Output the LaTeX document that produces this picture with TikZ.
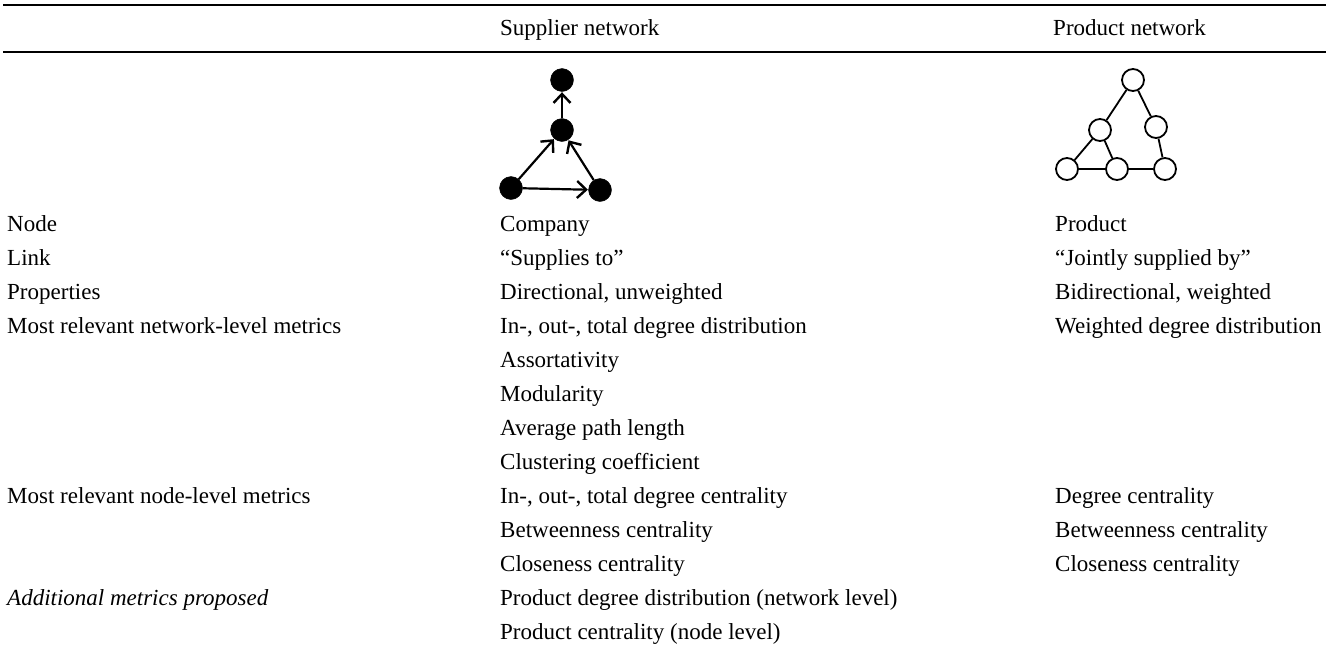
\documentclass[tikz,border=0pt]{standalone}
\usepackage{fontspec}
\setmainfont{Liberation Serif}
\usetikzlibrary{arrows.meta}
\begin{document}
\begin{tikzpicture}[x=1pt,y=-1pt,
  txt/.style={anchor=base west,inner sep=0pt,font=\fontsize{23}{27}\selectfont},
  rule/.style={line width=2.4pt},
  snode/.style={circle,fill=black,draw=black,minimum size=23pt,inner sep=0pt},
  pnode/.style={circle,draw=black,line width=1.8pt,fill=white,minimum size=22pt,inner sep=0pt},
  sedge/.style={line width=2.2pt,-{Straight Barb[length=9pt,width=17pt,line width=2.4pt]},shorten >=0.5pt},
  pedge/.style={line width=1.8pt}]
\useasboundingbox (0,0) rectangle (1338,651);
% rules
\coordinate (r1a) at (3,5); \coordinate (r1b) at (1326,5);
\coordinate (r2a) at (3,52); \coordinate (r2b) at (1326,52);
\draw[rule] (r1a) -- (r1b);
\draw[rule] (r2a) -- (r2b);
% header
\node[txt] (hs) at (500,35) {Supplier network};
\node[txt] (hp) at (1053,35) {Product network};
% supplier network
\node[snode] (s1) at (562,80) {};
\node[snode] (s2) at (562,130) {};
\node[snode] (s3) at (511,188) {};
\node[snode] (s4) at (600,190) {};
\draw[sedge] (s2) -- (s1);
\draw[sedge] (s3) -- (s2);
\draw[sedge] (s4) -- (s2);
\draw[sedge] (s3) -- (s4);
% product network
\node[pnode] (p1) at (1133,80) {};
\node[pnode] (p2) at (1100,130) {};
\node[pnode] (p3) at (1156,127) {};
\node[pnode] (p4) at (1067,169) {};
\node[pnode] (p5) at (1117,169) {};
\node[pnode] (p6) at (1165,169) {};
\draw[pedge] (p1) -- (p2);
\draw[pedge] (p1) -- (p3);
\draw[pedge] (p2) -- (p4);
\draw[pedge] (p2) -- (p5);
\draw[pedge] (p3) -- (p6);
\draw[pedge] (p4) -- (p5);
\draw[pedge] (p5) -- (p6);
% column 1
\node[txt] (a1) at (7,231) {Node};
\node[txt] (a2) at (7,265) {Link};
\node[txt] (a3) at (7,299) {Properties};
\node[txt] (a4) at (7,333) {Most relevant network-level metrics};
\node[txt] (a5) at (7,503) {Most relevant node-level metrics};
\node[txt] (a6) at (7,605) {\itshape Additional metrics proposed};
% column 2
\node[txt] (b1) at (500,231) {Company};
\node[txt] (b2) at (500,265) {“Supplies to”};
\node[txt] (b3) at (500,299) {Directional, unweighted};
\node[txt] (b4) at (500,333) {In-, out-, total degree distribution};
\node[txt] (b5) at (500,367) {Assortativity};
\node[txt] (b6) at (500,401) {Modularity};
\node[txt] (b7) at (500,435) {Average path length};
\node[txt] (b8) at (500,469) {Clustering coefficient};
\node[txt] (b9) at (500,503) {In-, out-, total degree centrality};
\node[txt] (b10) at (500,537) {Betweenness centrality};
\node[txt] (b11) at (500,571) {Closeness centrality};
\node[txt] (b12) at (500,605) {Product degree distribution (network level)};
\node[txt] (b13) at (500,639) {Product centrality (node level)};
% column 3
\node[txt] (c1) at (1055,231) {Product};
\node[txt] (c2) at (1055,265) {“Jointly supplied by”};
\node[txt] (c3) at (1055,299) {Bidirectional, weighted};
\node[txt] (c4) at (1055,333) {Weighted degree distribution};
\node[txt] (c5) at (1055,503) {Degree centrality};
\node[txt] (c6) at (1055,537) {Betweenness centrality};
\node[txt] (c7) at (1055,571) {Closeness centrality};
\end{tikzpicture}
\end{document}
